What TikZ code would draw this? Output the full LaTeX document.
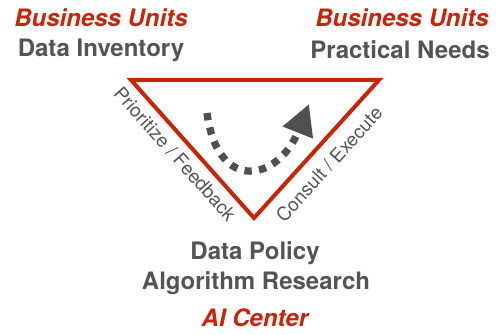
\documentclass[tikz,border=0pt]{standalone}
\usepackage{fontspec}
\setmainfont{TeX Gyre Heros}
\usepackage{tikz}
\usetikzlibrary{arrows.meta}

\definecolor{unitred}{RGB}{200,36,8}
\definecolor{textgray}{RGB}{84,84,84}
\definecolor{arrowgray}{RGB}{80,80,80}

\tikzset{
  unitlabel/.style={inner sep=0.75pt, color=unitred, font=\fontsize{18}{20}\selectfont\bfseries\itshape},
  rolelabel/.style={inner sep=0.75pt, color=textgray, font=\fontsize{18}{20}\selectfont\bfseries},
  sidelabel/.style={inner sep=0.75pt, color=textgray, font=\fontsize{14.2}{16}\selectfont},
}

\begin{document}
\begin{tikzpicture}[x=0.75pt,y=0.75pt,yscale=-1,xscale=1]
    \useasboundingbox (0,0) rectangle (500,335);

    %Triangle corners
    \coordinate (tl) at (131,80);
    \coordinate (tr) at (379,80);
    \coordinate (bt) at (254,218);
    %Shape: Triangle
    \draw [color=unitred, line width=3pt, line join=miter] (tl) -- (tr) -- (bt) -- cycle;

    %Curve Lines (dotted arrow)
    \coordinate (a0) at (207,113);
    \coordinate (a1) at (309,104);
    \draw [color=arrowgray, line width=5.5pt, dash pattern={on 5.5pt off 5.5pt},
           -{Triangle[length=23pt,width=23pt]}]
      (a0) .. controls (218,195) and (279,180) .. (a1);

    % Text Node
    \node [sidelabel, rotate=-48.3] (prio) at (175,154) {Prioritize / Feedback};
    % Text Node
    \node [sidelabel, rotate=47.8] (cons) at (329,164) {Consult / Execute};
    % Text Node
    \node [unitlabel] (buleft) at (101,18) {Business Units};
    % Text Node
    \node [rolelabel] (inv) at (101,50) {Data Inventory};
    % Text Node
    \node [unitlabel] (buright) at (402,18) {Business Units};
    % Text Node
    \node [rolelabel] (needs) at (400,50) {Practical Needs};
    % Text Node
    \node [rolelabel] (policy) at (255,253) {Data Policy};
    % Text Node
    \node [rolelabel] (algo) at (256,283) {Algorithm Research};
    % Text Node
    \node [unitlabel] (aic) at (255,318) {AI Center};

\end{tikzpicture}
\end{document}
